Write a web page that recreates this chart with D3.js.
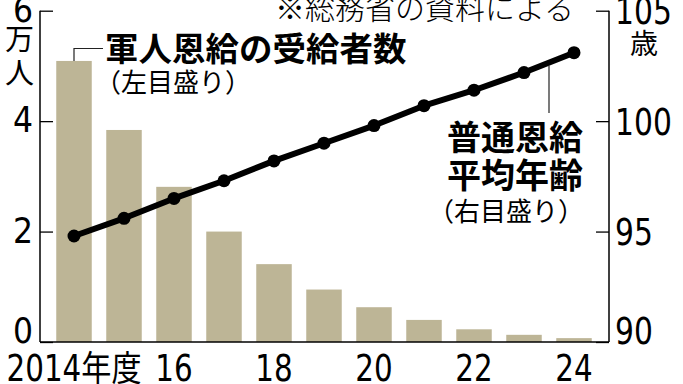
<!DOCTYPE html>
<html><head><meta charset="utf-8">
<script src="https://cdn.jsdelivr.net/npm/d3@7"></script>
<style>
html,body{margin:0;padding:0;background:#fff;}
svg{display:block;}
</style></head>
<body>
<svg id="c" width="683" height="384"></svg>
<script>
const years = [2014,2015,2016,2017,2018,2019,2020,2021,2022,2023,2024];
const recipients = [5.09,3.84,2.81,2.00,1.41,0.95,0.63,0.40,0.23,0.13,0.07]; // 万人
const avgAge = [94.8,95.6,96.5,97.3,98.2,99.0,99.8,100.7,101.4,102.2,103.1]; // 歳
const leftTicks = [0,2,4,6];
const rightTicks = [90,95,100,105];
const xTickYears = [2014,2016,2018,2020,2022,2024];

const NUM = '"Liberation Sans Narrow","DejaVu Sans Condensed","Liberation Sans",sans-serif';
const JP = '"Noto Sans CJK JP","Noto Sans CJK SC",sans-serif';

const svg = d3.select("#c");
const L = 40, R = 609, B = 342, T = 10.7;

const x = d3.scaleBand().domain(years).range([49,599]).paddingInner(0.29).paddingOuter(0.145);
const yL = d3.scaleLinear().domain([0,6]).range([B,T]);
const yR = d3.scaleLinear().domain([90,105]).range([B,T]);
const cx = d => x(d) + x.bandwidth()/2;

// bars
svg.append("g").selectAll("rect").data(years).join("rect")
  .attr("x", d => x(d)).attr("width", x.bandwidth())
  .attr("y", (d,i) => yL(recipients[i]))
  .attr("height", (d,i) => B - yL(recipients[i]))
  .attr("fill", "#bdb596");

// left axis
const gl = svg.append("g").attr("transform", `translate(${L},0)`)
  .call(d3.axisLeft(yL).tickValues(leftTicks).tickSize(-13).tickPadding(7).tickFormat(d3.format("d")));
gl.select(".domain").remove();
gl.selectAll("line").attr("stroke","#000").attr("stroke-width",1.3);
gl.selectAll("text").attr("font-family", NUM).attr("font-size", 35).attr("fill","#000")
  .attr("dy", d => d === 0 ? "0em" : "0.3em");
gl.append("line").attr("x1",0).attr("x2",0).attr("y1",T).attr("y2",B).attr("stroke","#000").attr("stroke-width",1.5);

// right axis
const gr = svg.append("g").attr("transform", `translate(${R},0)`)
  .call(d3.axisRight(yR).tickValues(rightTicks).tickSize(-13).tickPadding(7).tickFormat(d3.format("d")));
gr.select(".domain").remove();
gr.selectAll("line").attr("stroke","#000").attr("stroke-width",1.3);
gr.selectAll("text").attr("font-family", NUM).attr("font-size", 38).attr("fill","#000")
  .attr("dy", d => d === 90 ? "0.05em" : "0.34em")
  .attr("transform", "scale(0.87,1)");
gr.append("line").attr("x1",0).attr("x2",0).attr("y1",T).attr("y2",B).attr("stroke","#000").attr("stroke-width",1.5);

// bottom baseline
svg.append("line").attr("x1",L).attr("x2",R).attr("y1",B).attr("y2",B).attr("stroke","#000").attr("stroke-width",1.5);

// bottom axis labels
const gb = svg.append("g").attr("transform", `translate(0,${B})`)
  .call(d3.axisBottom(x).tickValues(xTickYears).tickSize(0).tickPadding(0).tickFormat(d => d === 2014 ? "2014" : String(d).slice(2)));
gb.select(".domain").remove();
gb.selectAll("text").attr("font-family", NUM).attr("font-size", 38).attr("fill","#000")
  .attr("y", 39).attr("dy", null).attr("transform", "scale(0.86,1)");
gb.selectAll("text").filter(d => d === 2014).each(function(){
  const t = d3.select(this);
  t.text(null);
  t.append("tspan").text("2014");
  t.append("tspan").attr("font-family", JP).attr("font-size", 35).text("年度");
});

// line
const line = d3.line().x(d => cx(d)).y((d,i) => yR(avgAge[i]));
svg.append("path").datum(years).attr("d", line).attr("fill","none")
  .attr("stroke","#000").attr("stroke-width",6).attr("stroke-linejoin","round");
svg.append("g").selectAll("circle").data(years).join("circle")
  .attr("cx", d => cx(d)).attr("cy", (d,i) => yR(avgAge[i])).attr("r", 6.5).attr("fill","#000");

// unit labels
svg.append("text").attr("x", 5).attr("y", 50).attr("font-family", JP).attr("font-size", 29).text("万");
svg.append("text").attr("x", 5).attr("y", 84).attr("font-family", JP).attr("font-size", 29).text("人");
svg.append("text").attr("x", 630).attr("y", 54).attr("font-family", JP).attr("font-size", 28).text("歳");

// source note
svg.append("text").attr("x", 275).attr("y", 19).attr("font-family", JP).attr("font-size", 30).attr("font-weight", 300).text("※総務省の資料による");

// series label: recipients
const b0x = cx(years[0]), b0y = yL(recipients[0]);
svg.append("path").attr("d", `M${b0x},${b0y}V48.5H103`).attr("fill","none").attr("stroke","#222").attr("stroke-width",1.2);
svg.append("text").attr("x", 105).attr("y", 61).attr("font-family", JP).attr("font-weight", 700).attr("font-size", 33.5).text("軍人恩給の受給者数");
svg.append("text").attr("x", 95).attr("y", 92).attr("font-family", JP).attr("font-size", 26).text("（左目盛り）");

// series label: age
const mx = (cx(2023)+cx(2024))/2;
const my = (yR(avgAge[9])+yR(avgAge[10]))/2;
svg.append("line").attr("x1", mx).attr("x2", mx).attr("y1", my+3).attr("y2", 113).attr("stroke","#222").attr("stroke-width",1.2);
svg.append("text").attr("x", 583).attr("y", 150).attr("text-anchor","end").attr("font-family", JP).attr("font-weight", 700).attr("font-size", 34).text("普通恩給");
svg.append("text").attr("x", 584).attr("y", 221).attr("text-anchor","end").attr("font-family", JP).attr("font-size", 26).text("（右目盛り）");
svg.append("text").attr("x", 583).attr("y", 188).attr("text-anchor","end").attr("font-family", JP).attr("font-weight", 700).attr("font-size", 34).text("平均年齢");
</script>
</body></html>
